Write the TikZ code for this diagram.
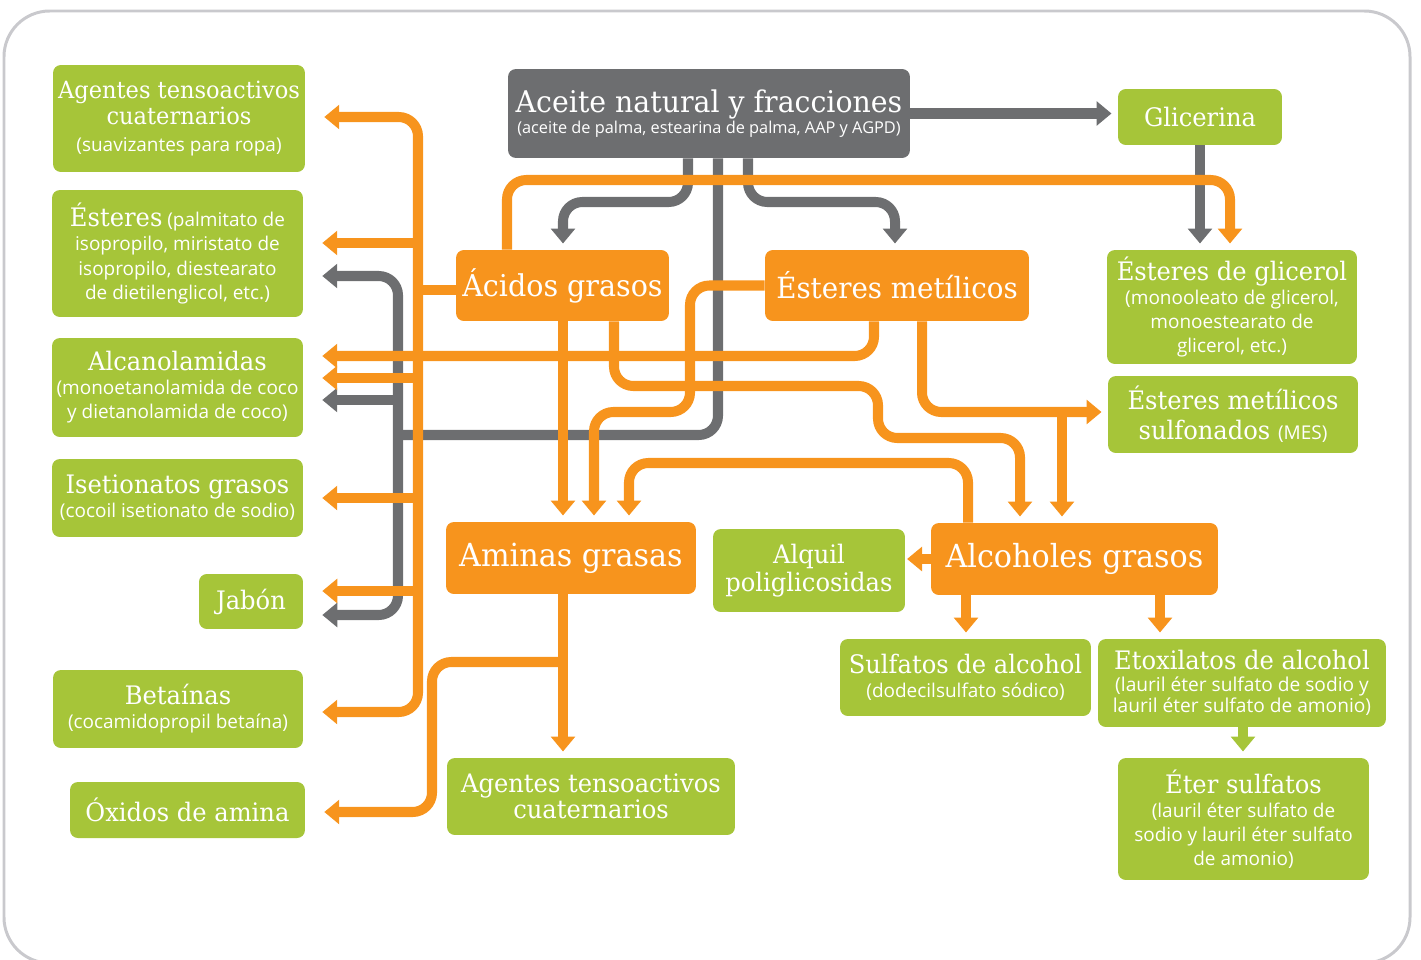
\documentclass[tikz,border=0pt]{standalone}
\usepackage{fontspec}
\setmainfont{Open Sans}
\newfontfamily\sans{Open Sans}
\newfontfamily\slab[FakeStretch=0.95]{DejaVu Serif}
\usetikzlibrary{arrows.meta}
\definecolor{leaf}{HTML}{A6C539}
\definecolor{tang}{HTML}{F7941D}
\definecolor{slate}{HTML}{6D6E70}
\definecolor{rim}{HTML}{C9C9CD}
\newcommand{\bigt}{\slab\fontsize{17.6}{20}\selectfont}
\newcommand{\midt}{\slab\fontsize{14.5}{15}\selectfont}
\newcommand{\subt}{\sans\fontsize{10.8}{13.7}\selectfont}
\begin{document}
\begin{tikzpicture}[x=0.02cm, y=-0.02cm]
	\tikzset{gbox/.style={rectangle, rounded corners=4.5pt, fill=leaf, text=white, align=center, inner sep=0pt, font=\midt},
		obox/.style={gbox, fill=tang, font=\bigt},
		abox/.style={gbox, fill=slate},
		oline/.style={draw=tang, line width=5.7pt, rounded corners=11pt},
		gline/.style={oline, draw=slate},
		arr/.style={-{Triangle[length=8.5pt, width=13.5pt]}, shorten >=3.5pt},
		larr/.style={-{Triangle[length=8.5pt, width=13.5pt]}, shorten >=10.8pt},
		barr/.style={{Triangle[length=8.5pt, width=13.5pt]}-{Triangle[length=8.5pt, width=13.5pt]}, shorten >=10.8pt, shorten <=10.8pt}};

	\useasboundingbox (0,0) rectangle (1421,960);
	\draw[rim, line width=1.7pt, rounded corners=26pt] (4,11) rectangle (1410,963);

	\node[abox, minimum width=8.04cm, minimum height=1.78cm, font=\sans\fontsize{9.3}{12}\selectfont] (aceite) at (709,113.5) {{\slab\fontsize{17}{20}\selectfont Aceite natural y fracciones}\\(aceite de palma, estearina de palma, AAP y AGPD)};
	\node[gbox, minimum width=3.28cm, minimum height=1.12cm] (glicerina) at (1200,117) {Glicerina};
	\node[obox, minimum width=4.26cm, minimum height=1.42cm, font=\slab\fontsize{17.1}{20}\selectfont] (acidos) at (562.5,285.5) {Ácidos grasos};
	\node[obox, minimum width=5.28cm, minimum height=1.42cm, font=\slab\fontsize{16.6}{20}\selectfont] (estmet) at (897,285.5) {Ésteres metílicos};
	\node[gbox, minimum width=5cm, minimum height=2.28cm, font=\subt] (estglic) at (1232,307) {{\midt Ésteres de glicerol}\\(monooleato de glicerol,\\monoestearato de\\glicerol, etc.)};
	\node[gbox, minimum width=5cm, minimum height=1.54cm, font=\slab\fontsize{14.5}{17}\selectfont] (mes) at (1233,414.5) {Ésteres metílicos\\sulfonados {\subt(MES)}};
	\node[obox, minimum width=5cm, minimum height=1.44cm, font=\slab\fontsize{18.1}{20}\selectfont] (aminas) at (571,558) {Aminas grasas};
	\node[gbox, minimum width=3.84cm, minimum height=1.66cm, font=\slab\fontsize{14.5}{16}\selectfont] (alquil) at (809,570.5) {Alquil\\poliglicosidas};
	\node[obox, minimum width=5.74cm, minimum height=1.44cm, font=\slab\fontsize{18.1}{20}\selectfont] (alcoholes) at (1074.5,559) {Alcoholes grasos};
	\node[gbox, minimum width=5.02cm, minimum height=1.54cm, font=\subt] (sulfatos) at (965.5,677.5) {{\midt Sulfatos de alcohol}\\(dodecilsulfato sódico)};
	\node[gbox, minimum width=5.76cm, minimum height=1.76cm, font=\sans\fontsize{10.9}{12.3}\selectfont] (etoxilatos) at (1242,683) {{\midt Etoxilatos de alcohol}\\(lauril éter sulfato de sodio y\\lauril éter sulfato de amonio)};
	\node[gbox, minimum width=5.02cm, minimum height=2.44cm, font=\subt] (eter) at (1243.5,819) {{\midt Éter sulfatos}\\(lauril éter sulfato de\\sodio y lauril éter sulfato\\de amonio)};
	\node[gbox, minimum width=5.76cm, minimum height=1.54cm] (agentes2) at (591,796.5) {Agentes tensoactivos\\cuaternarios};

	\node[gbox, minimum width=5.04cm, minimum height=2.14cm, font=\slab\fontsize{13.5}{15}\selectfont] (agentes1) at (179,118.5) {Agentes tensoactivos\\cuaternarios\\\subt(suavizantes para ropa)};
	\node[gbox, minimum width=5.02cm, minimum height=2.54cm, font=\subt] (esteres) at (177.5,253.5) {{\midt Ésteres} (palmitato de\\isopropilo, miristato de\\isopropilo, diestearato\\de dietilenglicol, etc.)};
	\node[gbox, minimum width=5.02cm, minimum height=1.98cm, font=\subt] (alcanol) at (177.5,387.5) {{\midt Alcanolamidas}\\(monoetanolamida de coco\\y dietanolamida de coco)};
	\node[gbox, minimum width=5.02cm, minimum height=1.56cm, font=\subt] (isetion) at (177.5,498) {{\midt Isetionatos grasos}\\(cocoil isetionato de sodio)};
	\node[gbox, minimum width=2.08cm, minimum height=1.1cm] (jabon) at (251,601.5) {Jabón};
	\node[gbox, minimum width=5cm, minimum height=1.56cm, font=\subt] (betainas) at (178,709) {{\midt Betaínas}\\(cocamidopropil betaína)};
	\node[gbox, minimum width=4.7cm, minimum height=1.12cm] (oxidos) at (187.5,810) {Óxidos de amina};

	\draw[gline, arr] (aceite.east) -- (glicerina.west |- aceite.east);
	\draw[gline, arr] (glicerina.south) -- (estglic.north -| glicerina.south);
	\draw[gline, arr] (aceite.south -| 688,0) -- (688,202) -- (563,202) -- (acidos.north -| 563,0);
	\draw[gline, arr] (aceite.south -| 748,0) -- (748,202) -- (895,202) -- (estmet.north -| 895,0);
	\draw[gline, barr] (esteres.east |- 0,276) -- (398,276) -- (398,615) -- (jabon.east |- 0,615);
	\draw[gline, larr] (398,400) -- (alcanol.east |- 0,400);
	\draw[gline] (aceite.south -| 718,0) -- (718,435) -- (398,435);

	\draw[oline] (acidos.west |- 0,290) -- (418,290);
	\draw[oline, barr] (agentes1.east |- 0,117) -- (418,117) -- (418,712) -- (betainas.east |- 0,712);
	\draw[oline, larr] (418,243) -- (esteres.east |- 0,243);
	\draw[oline, larr] (418,378) -- (alcanol.east |- 0,378);
	\draw[oline, larr] (418,498) -- (isetion.east |- 0,498);
	\draw[oline, larr] (418,591) -- (jabon.east |- 0,591);
	\draw[oline, arr] (acidos.north -| 507,0) -- (507,180) -- (1230,180) -- (estglic.north -| 1230,0);
	\draw[oline, arr] (acidos.south -| 563,0) -- (aminas.north -| 563,0);
	\draw[oline, arr] (acidos.south -| 614,0) -- (614,386) -- (878,386) -- (878,438) -- (1020,438) -- (alcoholes.north -| 1020,0);
	\draw[oline, arr] (estmet.west) -- (estmet.west -| 690,0) -- (690,412) -- (594,412) -- (aminas.north -| 594,0);
	\draw[oline, larr] (estmet.south -| 874,0) -- (874,356) -- (alcanol.east |- 0,356);
	\draw[oline, arr] (estmet.south -| 922,0) -- (922,412) -- (mes.west |- 0,412);
	\draw[oline, arr] (1062,412) -- (alcoholes.north -| 1062,0);
	\draw[oline, arr] (alcoholes.north -| 968,0) -- (968,463) -- (629,463) -- (aminas.north -| 629,0);
	\draw[oline, arr, shorten >=1pt] (alcoholes.west) -- (alquil.east |- alcoholes.west);
	\draw[oline, arr] (alcoholes.south -| 966,0) -- (sulfatos.north -| 966,0);
	\draw[oline, arr] (alcoholes.south -| 1160,0) -- (etoxilatos.north -| 1160,0);
	\draw[oline, arr] (aminas.south -| 563,0) -- (agentes2.north -| 563,0);
	\draw[oline, larr] (563,662) -- (432,662) -- (432,812) -- (oxidos.east |- 0,812);
	\draw[oline, draw=leaf, arr] (etoxilatos.south -| 1243,0) -- (eter.north -| 1243,0);
\end{tikzpicture}
\end{document}
